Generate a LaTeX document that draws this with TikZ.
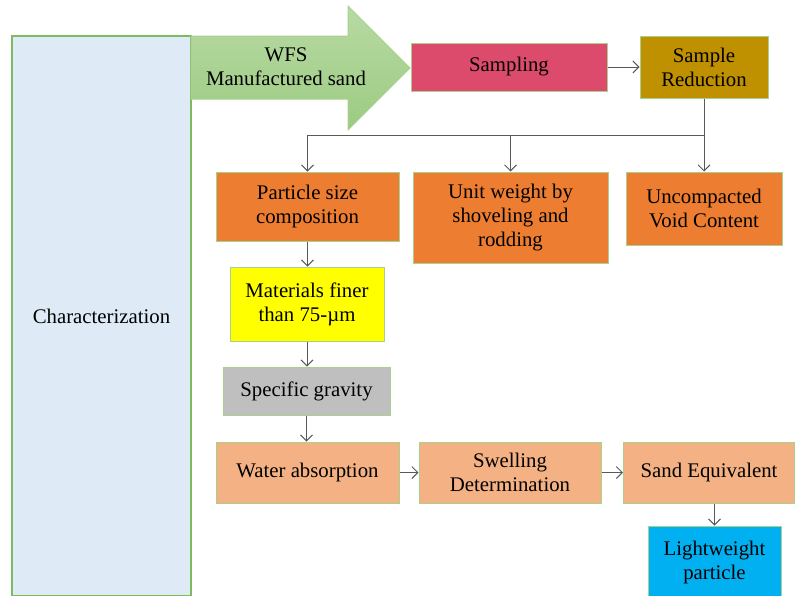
\documentclass[tikz,border=0pt]{standalone}
\usepackage{fontspec}
\setmainfont{Liberation Serif}
\usetikzlibrary{arrows.meta}
\definecolor{charfill}{HTML}{DEEAF6}
\definecolor{charline}{HTML}{7FBA5E}
\definecolor{boxline}{HTML}{A9D18E}
\definecolor{sampfill}{HTML}{DC4B6B}
\definecolor{redfill}{HTML}{BF9000}
\definecolor{orfill}{HTML}{ED7D31}
\definecolor{yelfill}{HTML}{FFFF00}
\definecolor{grayfill}{HTML}{BFBFBF}
\definecolor{peachfill}{HTML}{F4B183}
\definecolor{bluefill}{HTML}{00B0F0}
\definecolor{arrtop}{HTML}{B8DAA4}
\definecolor{arrbot}{HTML}{9CCB82}
\definecolor{conn}{HTML}{595959}
\tikzset{
  box/.style={draw=boxline, line width=1pt, align=center, inner sep=1pt,
    font=\fontsize{20.8}{24}\selectfont},
  conn/.style={draw=conn, line width=0.9pt, -{Straight Barb[length=6pt,width=12pt]}},
  plain/.style={draw=conn, line width=0.9pt}
}
\begin{document}
\begin{tikzpicture}[x=1pt,y=-1pt]
\useasboundingbox (0,0) rectangle (795,595);
\begin{scope}
\clip (0,0) rectangle (795,595);
\node[box, draw=charline, line width=1.4pt, fill=charfill, minimum width=179pt, minimum height=560pt] (ch) at (101.5,316) {Characterization};
\node[box, fill=bluefill, minimum width=133pt, minimum height=72pt] (lw) at (714.5,562) {Lightweight\\particle};
\end{scope}
% big arrow
\path[draw=boxline, line width=1pt, top color=arrtop, bottom color=arrbot]
  (191,36) -- (348,36) -- (348,6) -- (410,68) -- (348,130) -- (348,99) -- (191,99) -- cycle;
\node[align=center, font=\fontsize{20.8}{24}\selectfont] (wfs) at (286,67) {WFS\\Manufactured sand};
\node[box, fill=sampfill, minimum width=196pt, minimum height=48pt] (sa) at (509,67) {Sampling};
\node[box, fill=redfill, minimum width=128pt, minimum height=62pt] (sr) at (704,67) {Sample\\Reduction};
\node[box, fill=orfill, minimum width=183pt, minimum height=69pt] (pc) at (307.5,206.5) {Particle size\\composition};
\node[box, fill=orfill, minimum width=195pt, minimum height=91pt] (uw) at (510.5,217.5) {Unit weight by\\shoveling and\\rodding};
\node[box, fill=orfill, minimum width=156pt, minimum height=73pt] (uv) at (704,208.5) {Uncompacted\\Void Content};
\node[box, fill=yelfill, minimum width=154pt, minimum height=74pt] (mf) at (307,304) {Materials finer\\than 75-µm};
\node[box, fill=grayfill, minimum width=167pt, minimum height=48pt] (sg) at (306.5,391) {Specific gravity};
\node[box, fill=peachfill, minimum width=183pt, minimum height=61pt] (wa) at (307.5,472.5) {Water absorption};
\node[box, fill=peachfill, minimum width=182pt, minimum height=61pt] (sd) at (510,472.5) {Swelling\\Determination};
\node[box, fill=peachfill, minimum width=171pt, minimum height=61pt] (se) at (709,472.5) {Sand Equivalent};
% connectors
\draw[conn] (sa.east) -- (sr.west);
\draw[plain] (sr.south) -- ++(0,37) coordinate (j);
\draw[conn] (j) -| (pc.north);
\draw[conn] (j) -| (uw.north);
\draw[conn] (j) -- (uv.north);
\draw[conn] (pc.south) -- (pc.south |- mf.north);
\draw[conn] (mf.south) -- (mf.south |- sg.north);
\draw[conn] (sg.south) -- (sg.south |- wa.north);
\draw[conn] (wa.east) -- (sd.west);
\draw[conn] (sd.east) -- (se.west);
\draw[conn] (se.south -| lw.north) -- (lw.north);
\end{tikzpicture}
\end{document}
